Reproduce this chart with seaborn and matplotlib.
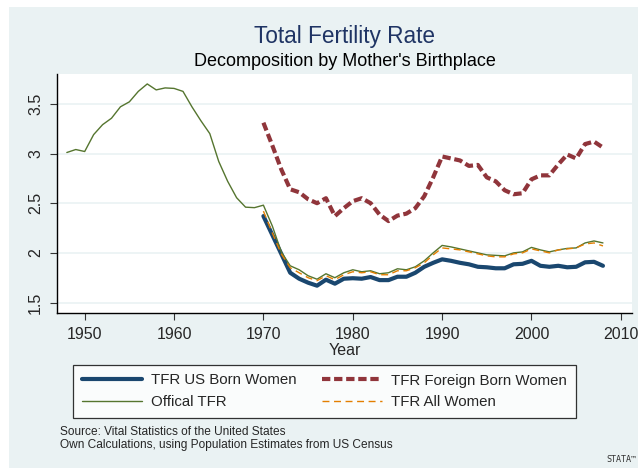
import matplotlib
matplotlib.use("Agg")
import matplotlib.pyplot as plt
import seaborn as sns
import pandas as pd
from matplotlib.patches import Rectangle
from matplotlib.lines import Line2D

# ---- data ----
years_official = list(range(1948, 2009))
official_tfr = [3.01, 3.04, 3.02, 3.19, 3.29, 3.355, 3.47, 3.52, 3.625, 3.70,
                3.64, 3.66, 3.655, 3.625, 3.47, 3.33, 3.20, 2.92, 2.72, 2.555,
                2.46, 2.455, 2.48, 2.27, 2.01, 1.87, 1.83, 1.77, 1.735, 1.79,
                1.75, 1.80, 1.83, 1.81, 1.82, 1.79, 1.80, 1.84, 1.83, 1.86,
                1.92, 2.00, 2.075, 2.06, 2.04, 2.02, 2.00, 1.98, 1.975, 1.97,
                2.00, 2.01, 2.055, 2.03, 2.01, 2.03, 2.045, 2.05, 2.10, 2.12,
                2.10]

years_decomp = list(range(1970, 2009))
us_born = [2.37, 2.18, 1.99, 1.80, 1.74, 1.70, 1.67, 1.73, 1.69, 1.74,
           1.745, 1.74, 1.757, 1.726, 1.726, 1.76, 1.76, 1.80, 1.86, 1.90,
           1.935, 1.92, 1.90, 1.885, 1.86, 1.855, 1.845, 1.845, 1.885, 1.89,
           1.92, 1.87, 1.86, 1.87, 1.855, 1.86, 1.905, 1.91, 1.87]
foreign_born = [3.31, 3.08, 2.84, 2.64, 2.61, 2.54, 2.50, 2.55, 2.37, 2.45,
                2.52, 2.55, 2.50, 2.385, 2.32, 2.375, 2.395, 2.45, 2.57, 2.76,
                2.97, 2.95, 2.93, 2.875, 2.885, 2.76, 2.72, 2.63, 2.59, 2.60,
                2.74, 2.78, 2.78, 2.89, 2.99, 2.95, 3.095, 3.12, 3.06]
all_women = [2.42, 2.20, 1.99, 1.85, 1.80, 1.75, 1.72, 1.77, 1.73, 1.78,
             1.81, 1.80, 1.81, 1.78, 1.78, 1.82, 1.82, 1.85, 1.90, 1.98,
             2.05, 2.04, 2.03, 2.01, 1.99, 1.97, 1.96, 1.96, 1.99, 2.00,
             2.04, 2.02, 2.00, 2.03, 2.04, 2.05, 2.09, 2.10, 2.07]

y_ticks = [1.5, 2, 2.5, 3, 3.5]
y_ticklabels = ["1.5", "2", "2.5", "3", "3.5"]
x_ticks = [1950, 1960, 1970, 1980, 1990, 2000, 2010]
x_ticklabels = ["1950", "1960", "1970", "1980", "1990", "2000", "2010"]

labels = ["TFR US Born Women", "TFR Foreign Born Women", "Offical TFR", "TFR All Women"]

# ---- style ----
BG = "#EAF2F3"
NAVY = "#1A476F"
MAROON = "#90353B"
GREEN = "#55752F"
ORANGE = "#E37E00"
FOREIGN_DASH = (0, (2.0, 0.9))
ALL_DASH = (0, (5, 3.3))

sns.set_style("white")
plt.rcParams["font.family"] = ["Liberation Sans", "DejaVu Sans"]

W, H = 638, 468
fig = plt.figure(figsize=(W / 100, H / 100), dpi=100, facecolor="white")
fig.patches.append(Rectangle((9 / W, 0), 1 - 9 / W, 1 - 7 / H, transform=fig.transFigure,
                             facecolor=BG, edgecolor="none", zorder=-10))

ax = fig.add_axes([57 / W, 1 - 313 / H, 575 / W, 239 / H])
ax.set_facecolor("white")

df_off = pd.DataFrame({"Year": years_official, "TFR": official_tfr})
df_dec = pd.DataFrame({"Year": years_decomp, "US": us_born, "Foreign": foreign_born,
                       "All": all_women})

sns.lineplot(data=df_off, x="Year", y="TFR", ax=ax, color=GREEN, linewidth=1.0, zorder=3)
sns.lineplot(data=df_dec, x="Year", y="All", ax=ax, color=ORANGE, linewidth=1.0,
             linestyle=ALL_DASH, zorder=4)
sns.lineplot(data=df_dec, x="Year", y="US", ax=ax, color=NAVY, linewidth=3.0, zorder=2)
sns.lineplot(data=df_dec, x="Year", y="Foreign", ax=ax, color=MAROON, linewidth=3.0,
             linestyle=FOREIGN_DASH, zorder=2)

ax.set_xlim(1946.9, 2011.25)
ax.set_ylim(1.395, 3.80)
ax.set_yticks(y_ticks)
ax.set_yticklabels(y_ticklabels, rotation=90, va="center", fontsize=11.5)
ax.set_xticks(x_ticks)
ax.set_xticklabels(x_ticklabels, fontsize=11.5)
ax.grid(axis="y", color=BG, linewidth=1.2, zorder=0)
ax.set_axisbelow(True)
for s in ["top", "right"]:
    ax.spines[s].set_visible(False)
for s in ["left", "bottom"]:
    ax.spines[s].set_color("black")
    ax.spines[s].set_linewidth(1.0)
ax.tick_params(axis="both", direction="out", length=5, width=0.8, color="#333333",
               left=True, bottom=True, pad=5)
ax.set_xlabel("Year", fontsize=11.5, labelpad=1)
ax.set_ylabel("")

cx = 344.5 / W
fig.text(cx, 1 - 37 / H, "Total Fertility Rate", ha="center", va="center",
         fontsize=16.3, color="#1F3464")
fig.text(cx, 1 - 62 / H, "Decomposition by Mother's Birthplace", ha="center",
         va="center", fontsize=13, color="black")

handles = [
    Line2D([], [], color=NAVY, linewidth=3.0),
    Line2D([], [], color=GREEN, linewidth=1.0),
    Line2D([], [], color=MAROON, linewidth=3.0, linestyle=FOREIGN_DASH),
    Line2D([], [], color=ORANGE, linewidth=1.0, linestyle=ALL_DASH),
]
leg_labels = [labels[0], labels[2], labels[1], labels[3]]
leg = fig.legend(handles, leg_labels, ncol=2, loc="lower left",
                 bbox_to_anchor=(73 / W, 1 - 418 / H, 503 / W, 53 / H),
                 mode="expand", borderaxespad=0, fontsize=10.8, frameon=True,
                 fancybox=False, edgecolor="black", handlelength=4.0,
                 handletextpad=0.6, labelspacing=0.5, columnspacing=2.0,
                 borderpad=0.6)
leg.get_frame().set_linewidth(0.9)
leg.get_frame().set_facecolor("white")

fig.text(60 / W, 1 - 432 / H, "Source: Vital Statistics of the United States",
         ha="left", va="center", fontsize=8.6)
fig.text(60 / W, 1 - 445 / H, "Own Calculations, using Population Estimates from US Census",
         ha="left", va="center", fontsize=8.6)
fig.text(636 / W, 1 - 459 / H, "STATA\u2122", ha="right", va="center", fontsize=6,
         color="#333333", family=["DejaVu Sans Mono", "DejaVu Sans"])

fig.savefig("out.png", dpi=100, facecolor="white")
